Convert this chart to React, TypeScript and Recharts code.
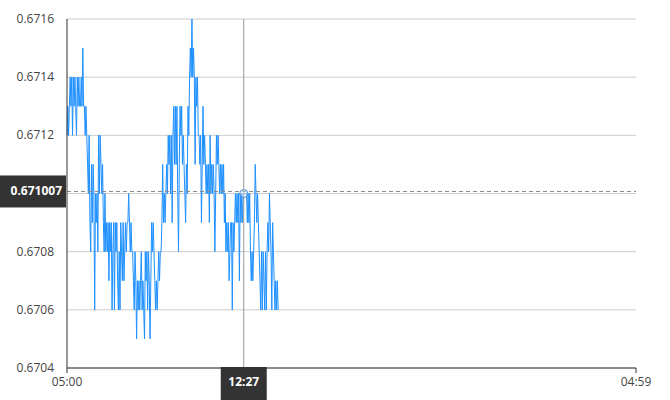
import React from 'react';
import { LineChart, Line, XAxis, YAxis, CartesianGrid, ReferenceLine, ReferenceDot } from 'recharts';

// minutes after 05:00, one quote every 2 minutes
const STEP_MIN = 2;
const quotes = [
  0.6712, 0.6713, 0.6712,
  0.6713, 0.6714, 0.6713, 0.6714, 0.6712, 0.6714, 0.6713, 0.6714, 0.6713, 0.6712, 0.6714, 0.6713, 0.6714,
  0.6713, 0.6713, 0.6714, 0.6713,
  0.6715, 0.6713,
  0.6713, 0.6712, 0.6713, 0.6712,
  0.6711, 0.671, 0.6712,
  0.6709, 0.6708,
  0.6711, 0.6709, 0.6711, 0.671,
  0.6706,
  0.671, 0.6709, 0.671,
  0.6708,
  0.6712, 0.671, 0.6712,
  0.6711, 0.671, 0.6711,
  0.6709, 0.6708, 0.671, 0.6708,
  0.6709, 0.6708, 0.6709, 0.6707, 0.6709, 0.6708, 0.6709, 0.6706, 0.6708, 0.6709,
  0.6706, 0.6709, 0.6708, 0.6709, 0.6707, 0.6706, 0.6708, 0.6706, 0.6709, 0.6708,
  0.6707, 0.6709, 0.6707, 0.6708,
  0.6709, 0.6708, 0.6709, 0.6709,
  0.671, 0.6709,
  0.6708, 0.6709, 0.6708, 0.6708,
  0.6707, 0.6706, 0.6708, 0.6707, 0.6705,
  0.6707, 0.6706, 0.6707, 0.6706, 0.6707, 0.6708,
  0.6706, 0.6707, 0.6706, 0.6705,
  0.6708, 0.6707, 0.6708, 0.6706, 0.6708, 0.6707,
  0.6705, 0.6707,
  0.6709, 0.6708, 0.6709, 0.6708,
  0.6707, 0.6706, 0.6707, 0.6706, 0.6707,
  0.6708, 0.6707, 0.6708, 0.6708,
  0.6709,
  0.6711, 0.6709, 0.671,
  0.6709, 0.671,
  0.6711, 0.671, 0.6712, 0.6711,
  0.6712, 0.671, 0.6712, 0.6709, 0.6712,
  0.6713, 0.6711, 0.6713, 0.6711, 0.6713,
  0.671, 0.6708, 0.6711,
  0.6713, 0.6712, 0.6713, 0.6711, 0.6712,
  0.6711, 0.671, 0.6709, 0.6711, 0.671,
  0.6713, 0.6712,
  0.6714, 0.6715, 0.6714,
  0.6716,
  0.6714, 0.6715, 0.6714,
  0.6711,
  0.6714, 0.6713, 0.6714, 0.6712,
  0.6712, 0.6711, 0.6712,
  0.6709, 0.6711,
  0.6713, 0.6711, 0.6712,
  0.6711, 0.671, 0.6711, 0.671, 0.6711,
  0.6709, 0.6712, 0.671,
  0.6711, 0.671, 0.6711, 0.671,
  0.6708, 0.671,
  0.6712, 0.6711, 0.6712, 0.6711,
  0.671, 0.6711, 0.671, 0.6711, 0.671, 0.6711,
  0.6709, 0.671, 0.6708, 0.6709, 0.6708,
  0.6709, 0.6707, 0.6708, 0.6709,
  0.6709, 0.6706, 0.6709, 0.6708,
  0.6709,
  0.671, 0.6709, 0.671, 0.6709, 0.671,
  0.6707,
  0.671, 0.6709, 0.671, 0.6709, 0.671,
  0.671, 0.671, 0.671, 0.671,
  0.6709, 0.671, 0.6709, 0.671,
  0.6708, 0.6707, 0.6708, 0.6707, 0.6708,
  0.6709,
  0.6711,
  0.671, 0.6709, 0.671, 0.6709,
  0.6708, 0.6707, 0.6706, 0.6708,
  0.6706, 0.6708, 0.6707, 0.6706, 0.6708, 0.6706,
  0.6708, 0.6709, 0.6708, 0.671,
  0.6709, 0.6708, 0.6706, 0.6709, 0.6708,
  0.6707, 0.6706, 0.6707, 0.6706, 0.6707, 0.6706,
];

const xTicks = [0, 1439];
const xTickLabels = ['05:00', '04:59'];
const yTicks = [0.6704, 0.6706, 0.6708, 0.671, 0.6712, 0.6714, 0.6716];

// crosshair position
const cursorMinute = 447;
const cursorLabel = '12:27';
const cursorValue = 0.671007;
const cursorPointValue = 0.671;

const data = quotes.map((v, i) => ({ t: i * STEP_MIN, v }));

const FONT = '"Open Sans", "Noto Sans", sans-serif';

// the crosshair box sits on top of the 0.6710 tick, so that one is not drawn
function YTick(props: any) {
  const { x, y, payload } = props;
  if (Math.abs(payload.value - cursorValue) < 0.00005) return null;
  return (
    <text x={x} y={y} dy={4} textAnchor="end" fill="#444" fontSize={12} fontFamily={FONT}>
      {payload.value.toFixed(4)}
    </text>
  );
}

function XCursorLabel(props: any) {
  const { x, y, height } = props.viewBox;
  return (
    <g>
      <rect x={x - 23} y={y + height - 1} width={46} height={34} fill="#333" />
      <text x={x} y={y + height + 18} textAnchor="middle" fill="#fff" fontSize={12} fontWeight="bold" fontFamily={FONT}>
        {cursorLabel}
      </text>
    </g>
  );
}

function YCursorLabel(props: any) {
  const { x, y } = props.viewBox;
  return (
    <g>
      <rect x={0} y={y - 16} width={x - 1} height={32} fill="#333" />
      <text x={x - 5} y={y + 4} textAnchor="end" fill="#fff" fontSize={12} fontWeight="bold" fontFamily={FONT}>
        {cursorValue}
      </text>
    </g>
  );
}

export default function App() {
  return (
    <div style={{ width: 670, height: 400, background: '#fff' }}>
      <style>{`body{margin:0}`}</style>
      <LineChart width={670} height={400} data={data} margin={{ top: 19, right: 34, bottom: 0, left: 0 }}>
        <CartesianGrid vertical={false} stroke="#cccccc" />
        <XAxis
          dataKey="t"
          type="number"
          domain={[0, 1439]}
          ticks={xTicks}
          tickFormatter={(t) => xTickLabels[xTicks.indexOf(t)]}
          height={32}
          stroke="#333"
          tickSize={5}
          tickMargin={4}
          tick={{ fill: '#444', fontSize: 12, fontFamily: FONT }}
        />
        <YAxis
          type="number"
          domain={[0.6704, 0.6716]}
          ticks={yTicks}
          width={67}
          stroke="#333"
          tickLine={false}
          tickMargin={7}
          tick={<YTick />}
        />
        <Line dataKey="v" type="linear" stroke="#1e90ff" strokeWidth={1} dot={false} isAnimationActive={false} />
        <ReferenceLine x={cursorMinute} stroke="#999" strokeWidth={1} label={<XCursorLabel />} />
        <ReferenceLine y={cursorValue} stroke="#888" strokeDasharray="4 3" label={<YCursorLabel />} />
        <ReferenceDot x={cursorMinute} y={cursorPointValue} r={4} fill="#fff" fillOpacity={0.3} stroke="#4a90d9" strokeWidth={1} />
      </LineChart>
    </div>
  );
}
